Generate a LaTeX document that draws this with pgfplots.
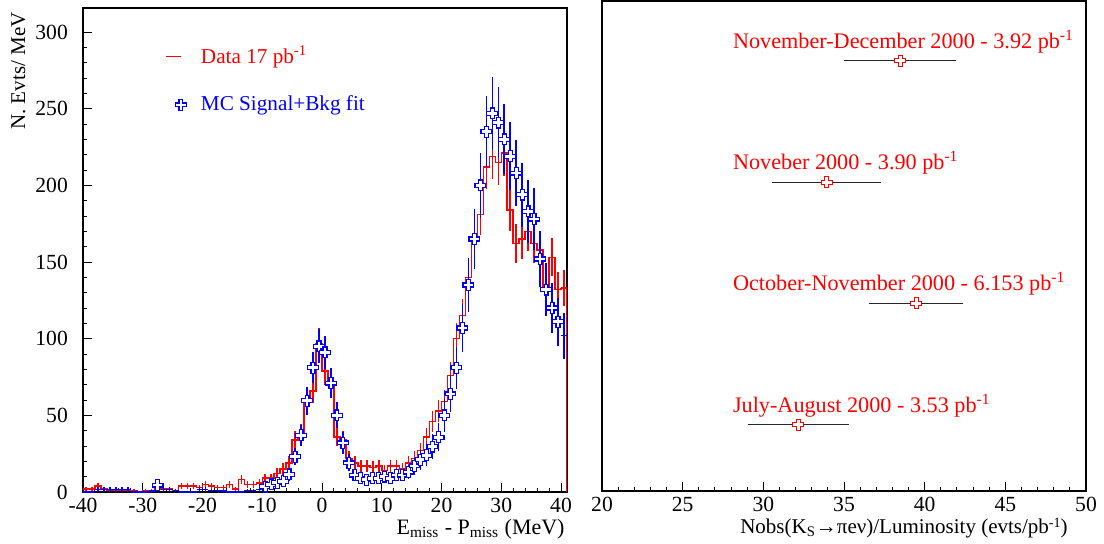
\documentclass[border=0pt]{standalone}
\usepackage{pgfplots}
\pgfplotsset{compat=1.18}
\usepackage{pgfplotstable}
\usepackage{fontspec}
\setmainfont{Liberation Serif}

\pgfdeclareplotmark{ocross}{%
 \pgfpathmoveto{\pgfpoint{-.36\pgfplotmarksize}{\pgfplotmarksize}}%
 \pgfpathlineto{\pgfpoint{.36\pgfplotmarksize}{\pgfplotmarksize}}%
 \pgfpathlineto{\pgfpoint{.36\pgfplotmarksize}{.36\pgfplotmarksize}}%
 \pgfpathlineto{\pgfpoint{\pgfplotmarksize}{.36\pgfplotmarksize}}%
 \pgfpathlineto{\pgfpoint{\pgfplotmarksize}{-.36\pgfplotmarksize}}%
 \pgfpathlineto{\pgfpoint{.36\pgfplotmarksize}{-.36\pgfplotmarksize}}%
 \pgfpathlineto{\pgfpoint{.36\pgfplotmarksize}{-\pgfplotmarksize}}%
 \pgfpathlineto{\pgfpoint{-.36\pgfplotmarksize}{-\pgfplotmarksize}}%
 \pgfpathlineto{\pgfpoint{-.36\pgfplotmarksize}{-.36\pgfplotmarksize}}%
 \pgfpathlineto{\pgfpoint{-\pgfplotmarksize}{-.36\pgfplotmarksize}}%
 \pgfpathlineto{\pgfpoint{-\pgfplotmarksize}{.36\pgfplotmarksize}}%
 \pgfpathlineto{\pgfpoint{-.36\pgfplotmarksize}{.36\pgfplotmarksize}}%
 \pgfpathclose
 \pgfusepathqfillstroke
}

\pgfplotstableread{
x d de
-39.5 2 1.41
-38.5 2 1.41
-37.5 4 2.00
-36.5 2 1.41
-35.5 1 1.00
-34.5 1 1.00
-33.5 1 1.00
-32.5 1 1.00
-31.5 1 1.00
-30.5 0 0
-29.5 1 1.00
-28.5 1 1.00
-27.5 2 1.41
-26.5 2 1.41
-25.5 2 1.41
-24.5 1 1.00
-23.5 4 2.00
-22.5 4 2.00
-21.5 4 2.00
-20.5 3 1.73
-19.5 5 2.24
-18.5 4 2.00
-17.5 3 1.73
-16.5 3 1.73
-15.5 5 2.24
-14.5 2 1.41
-13.5 8 2.83
-12.5 5 2.24
-11.5 5 2.24
-10.5 6 2.45
-9.5 9 3.00
-8.5 9 3.00
-7.5 12 3.46
-6.5 15 3.87
-5.5 19 4.36
-4.5 34 5.83
-3.5 38 6.16
-2.5 60 7.75
-1.5 66 8.12
-0.5 97 9.85
0.5 79 8.89
1.5 72 8.49
2.5 36 6.00
3.5 34 5.83
4.5 22 4.69
5.5 19 4.36
6.5 17 4.12
7.5 17 4.12
8.5 16 4.00
9.5 17 4.12
10.5 14 3.74
11.5 17 4.12
12.5 17 4.12
13.5 15 3.87
14.5 19 4.36
15.5 22 4.69
16.5 27 5.20
17.5 36 6.00
18.5 46 6.78
19.5 53 7.28
20.5 59 7.68
21.5 76 8.72
22.5 100 10.00
23.5 115 10.72
24.5 140 11.83
25.5 165 12.85
26.5 181 13.45
27.5 212 14.56
28.5 219 14.80
29.5 215 14.66
30.5 221 14.87
31.5 184 13.56
32.5 162 12.73
33.5 165 12.85
34.5 170 13.04
35.5 162 12.73
36.5 158 12.57
37.5 132 11.49
38.5 153 12.37
39.5 132 11.49
40.5 133 11.53
}\datatab

\pgfplotstableread{
x mc mce
-27.5 4.5 2.5
-9.5 3.5 2.2
-8.5 5 2.7
-7.5 6 2.9
-6.5 7 3.2
-5.5 11.5 4.0
-4.5 23 5.5
-3.5 37 7.0
-2.5 59.5 9.0
-1.5 81 10.0
-0.5 95 11.0
0.5 91 11.0
1.5 71 10.0
2.5 50 8.5
3.5 32 7.0
4.5 19 5.5
5.5 11 4.0
6.5 9 3.6
7.5 8 3.4
8.5 9 3.6
9.5 9 3.6
10.5 10 3.8
11.5 9 3.6
12.5 11 4.0
13.5 11 4.0
14.5 13 4.5
15.5 17 5.5
16.5 21 6.5
17.5 24 7.3
18.5 29.6 8.2
19.5 35.7 9.0
20.5 50 10.6
21.5 64 12.0
22.5 81 13.5
23.5 107 15.5
24.5 135 17.4
25.5 165 19.3
26.5 200 21.2
27.5 235 23.0
28.5 247 23.6
29.5 241 23.3
30.5 230 22.8
31.5 219 22.2
32.5 208 21.6
33.5 194 20.9
34.5 183 20.3
35.5 178 20.0
36.5 152 18.5
37.5 132 17.2
38.5 120 16.4
39.5 111 15.8
}\mcmarks

\pgfplotstableread{
x mc xe mce
-39.5 0 0.5 0
-38.5 0 0.5 0
-37.5 1.5 0.5 1.5
-36.5 1.5 0.5 1.5
-35.5 1.5 0.5 1.5
-34.5 1.5 0.5 1.5
-33.5 1.5 0.5 1.5
-32.5 1.5 0.5 1.5
-31.5 0 0.5 0
-30.5 0 0.5 0
-29.5 0 0.5 0
-28.5 0.5 0.5 0.7
-26.5 1.5 0.5 1.5
-25.5 1.5 0.5 1.5
-24.5 1 0.5 1
-23.5 0 0.5 0
-22.5 0 0.5 0
-21.5 0 0.5 0
-20.5 1.5 0.5 1.5
-19.5 1.5 0.5 1.5
-18.5 1 0.5 1
-17.5 1 0.5 1
-16.5 0.5 0.5 0.7
-15.5 0 0.5 0
-14.5 0 0.5 0
-13.5 0 0.5 0
-12.5 1 0.5 1
-11.5 1 0.5 1
-10.5 1.5 0.5 1.5
40.5 102 0.5 15
}\mcplus

\pgfplotstableread{
x y xe
32.17 0.541 3.13
39.47 1.532 2.90
33.93 2.520 3.39
38.48 3.513 3.45
}\runs

\pgfplotsset{
  rootstyle/.style={
    scale only axis,
    tick align=inside,
    xtick pos=left, ytick pos=left,
    major tick length=4.5pt, minor tick length=2.25pt,
    axis line style={line width=1pt},
    every tick/.style={black, line width=0.5pt},
    tick label style={font=\fontsize{10.8}{12}\selectfont, inner sep=0pt},
    /pgf/number format/assume math mode=true,
    xticklabel style={yshift=-3.0pt},
    yticklabel style={xshift=-7.4pt},
  },
  datalegend/.style={legend image code/.code={%
    \draw[red,line width=0.75pt](0pt,0pt)--(7.5pt,0pt);
    \path[draw=none,fill=none] (0pt,-2pt) rectangle (17.5pt,2pt);}},
  mclegend/.style={legend image code/.code={%
    \path[draw=none,fill=none] (0pt,-2pt) rectangle (17.5pt,2pt);
    \draw[blue, fill=white, line width=0.6pt] plot[only marks, mark=ocross, mark size=2.7pt] coordinates {(7.5pt,0pt)};}},
  ebars/.style={draw=none, mark=none, forget plot},
}
\newcommand{\lowsup}[1]{\raisebox{0.62ex}{\fontsize{7}{7}\selectfont #1}}

\begin{document}
\begin{tikzpicture}
\useasboundingbox (-41.5pt,-25.5pt) rectangle (510.5pt,246pt);
\begin{axis}[rootstyle,
  width=242pt, height=242pt,
  xmin=-40, xmax=41, ymin=0, ymax=315.7,
  xtick={-40,-30,...,40}, minor x tick num=4,
  ytick={0,50,...,300}, minor y tick num=4,
  xlabel={E\textsubscript{miss} - P\textsubscript{miss} (MeV)},
  every axis x label/.style={at={(rel axis cs:1,0)}, anchor=base east, inner sep=0pt, yshift=-21pt, xshift=-1pt, font=\fontsize{11}{13}\selectfont},
  ylabel={N. Evts/ MeV},
  every axis y label/.style={at={(axis description cs:-0.1198,0.9917)}, rotate=90, anchor=base east, inner sep=0pt, font=\fontsize{10.5}{12}\selectfont},
  legend style={at={(axis description cs:0.169,0.922)}, anchor=north west, draw=none, fill=none, inner sep=0pt, row sep=14.5pt, nodes={inner sep=0pt, font=\fontsize{10.6}{12}\selectfont}},
  legend cell align=left,
]
\addplot[red, line width=0.75pt, const plot mark left, datalegend]
  table[x expr=\thisrow{x}-0.5, y=d]{\datatab};
\addlegendentry{\textcolor{red}{Data 17 pb\textsuperscript{-1}}}
\addplot[red, line width=0.75pt, forget plot] coordinates {(40,133) (41,133) (41,0)};
\addplot[ebars, error bars/.cd, y dir=both, y explicit, error mark=none, error bar style={draw=red, line width=0.75pt}]
  table[x=x, y=d, y error=de]{\datatab};
\addplot[ebars, error bars/.cd, x dir=both, x explicit, y dir=both, y explicit, error mark=none, error bar style={draw=blue, line width=0.75pt}]
  table[x=x, y=mc, x error=xe, y error=mce]{\mcplus};
\addplot[ebars, error bars/.cd, y dir=both, y explicit, error mark=none, error bar style={draw=blue, line width=0.75pt}]
  table[x=x, y=mc, y error=mce]{\mcmarks};
\addplot[only marks, mark=ocross, mark size=2.7pt, mark options={draw=blue, fill=white, line width=0.6pt}, mclegend]
  table[x=x, y=mc]{\mcmarks};
\addlegendentry{\textcolor{blue}{MC Signal+Bkg fit}}
\end{axis}

\begin{axis}[rootstyle, at={(259.5pt,0.5pt)}, anchor=south west,
  width=242pt, height=245pt,
  xmin=20, xmax=50, ymin=0, ymax=4,
  xtick={20,25,...,50}, minor x tick num=4,
  ytick=\empty,
  xlabel={Nobs(K\textsubscript{S}→πeν)/Luminosity (evts/pb\lowsup{-1})},
  every axis x label/.style={at={(rel axis cs:1,0)}, anchor=base east, inner sep=0pt, yshift=-21pt, xshift=-9pt, font=\fontsize{10.5}{12}\selectfont},
]
\addplot[only marks, mark=ocross, mark size=2.7pt, mark options={draw=red, fill=white, line width=0.5pt},
  error bars/.cd, x dir=both, x explicit, error mark=none, error bar style={black!85, line width=0.5pt}]
  table[x=x, y=y, x error=xe]{\runs};
\begin{scope}[every node/.style={anchor=base west, inner sep=0pt, text=red, font=\fontsize{11.1}{13}\selectfont, yshift=6.25pt}]
\node at (axis cs:28.1,3.513) {November-December 2000 - 3.92 pb\textsuperscript{-1}};
\node at (axis cs:28.1,2.520) {Noveber 2000 - 3.90 pb\textsuperscript{-1}};
\node at (axis cs:28.1,1.532) {October-November 2000 - 6.153 pb\textsuperscript{-1}};
\node at (axis cs:28.1,0.541) {July-August 2000 - 3.53 pb\textsuperscript{-1}};
\end{scope}
\end{axis}
\end{tikzpicture}
\end{document}
